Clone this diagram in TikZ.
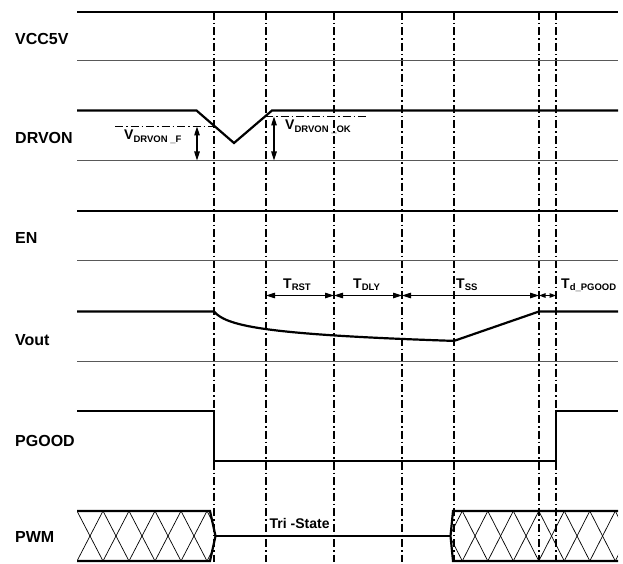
\documentclass[tikz,border=0pt]{standalone}
\usepackage{fontspec}
\setmainfont{Liberation Sans}
\usetikzlibrary{arrows.meta, positioning}
\tikzstyle{sig} = [line width=2.2pt, line join=miter]
\tikzstyle{base} = [line width=0.9pt, black!65]
\tikzstyle{timeline} = [line width=1.2pt, 
dash pattern=on 8pt off 3pt on 1.5pt off 3pt]
\tikzstyle{refline} = [line width=1.1pt, 
dash pattern=on 8pt off 3pt on 1.5pt off 3pt]
\tikzstyle{hatch} = [line width=0.7pt]
\tikzstyle{dim} = [line width=1.1pt, 
{Triangle[length=9pt,width=5.5pt]}-{Triangle[length=9pt,width=5.5pt]}]
\tikzstyle{shortdim} = [line width=1.1pt, 
{Triangle[length=6.5pt,width=4.5pt]}-{Triangle[length=6.5pt,width=4.5pt]}]
\tikzstyle{signame} = [font=\fontsize{16}{18}\selectfont\bfseries, 
anchor=base west, inner sep=0pt]
\tikzstyle{tlabel} = [font=\fontsize{14}{16}\selectfont\bfseries, 
anchor=base west, inner sep=0pt]
\newcommand{\lowidx}[1]{\raisebox{-2.5pt}{\fontsize{9.5}{10}\selectfont #1}}

\begin{document}
\begin{tikzpicture}[x=1pt, y=-1pt]
        \useasboundingbox (0,0) rectangle (623,564);

        % --- Nombres de las señales ---
        \node (n_vcc) [signame] at (15,45) {VCC5V};
        \node (n_drvon) [signame] at (15,144) {DRVON};
        \node (n_en) [signame] at (15,243) {EN};
        \node (n_vout) [signame] at (15,345) {Vout};
        \node (n_pgood) [signame] at (15,446) {PGOOD};
        \node (n_pwm) [signame] at (15,542) {PWM};

        % --- Líneas de tiempo (verticales) ---
        \foreach \t [count=\i] in {214,266,334,402,454,539,556} {
            \coordinate (t\i) at (\t,0);
            \draw [timeline] (\t,12) -- (\t,562);
        }

        % --- VCC5V ---
        \draw [sig] (77,12) -- (618,12);
        \draw [base] (77,60) -- (618,60);

        % --- DRVON ---
        \draw [sig] (77,110.5) -- (196.5,110.5) -- (234,143) -- (272,110.5) -- (618,110.5);
        \draw [base] (77,160.5) -- (618,160.5);
        \coordinate (f_top) at (197,126.5);
        \coordinate (f_bot) at (197,160.5);
        \coordinate (ok_top) at (274,116.5);
        \coordinate (ok_bot) at (274,160.5);
        \draw [refline] (115,126.5) -- (t1 |- f_top);
        \draw [refline] (265,116.5) -- (367,116.5);
        \draw [dim] (f_top) -- (f_bot);
        \draw [dim] (ok_top) -- (ok_bot);
        \node (v_f) [tlabel] at (124,140) {V\lowidx{DRVON \_F}};
        \node (v_ok) [tlabel] at (285,130) {V\lowidx{DRVON \_OK}};

        % --- EN ---
        \draw [sig] (77,211) -- (618,211);
        \draw [base] (77,260.5) -- (618,260.5);

        % --- Vout ---
        \draw [sig] (77,311.5) -- (214,311.5)
            -- plot[domain=214:454, samples=80] (\x,{311.5+8.25*ln(1+(\x-214)/7)})
            -- (539,311.5) -- (618,311.5);
        \draw [base] (77,361) -- (618,361);

        % Tiempos entre eventos
        \coordinate (trow) at (0,295.5);
        \draw [dim] (t2 |- trow) -- (t3 |- trow);
        \draw [dim] (t3 |- trow) -- (t4 |- trow);
        \draw [dim] (t4 |- trow) -- (t6 |- trow);
        \draw [shortdim] (t6 |- trow) -- (t7 |- trow);
        \node (l_rst) [tlabel] at (283,288) {T\lowidx{RST}};
        \node (l_dly) [tlabel] at (353,288) {T\lowidx{DLY}};
        \node (l_ss) [tlabel] at (456,288) {T\lowidx{SS}};
        \node (l_pg) [tlabel] at (561,288) {T\lowidx{d\_PGOOD}};

        % --- PGOOD ---
        \draw [sig] (77,411) -- (214,411) -- (214,461) -- (556,461) -- (556,411) -- (618,411);

        % --- PWM ---
        \begin{scope}
            \clip (77,511) -- (210,511) -- (215.5,536) -- (210,561) -- (77,561) -- cycle;
            \foreach \k in {0,...,5} {
                \draw [hatch] (77+26*\k,511) -- (103+26*\k,561);
                \draw [hatch] (77+26*\k,561) -- (103+26*\k,511);
            }
        \end{scope}
        \begin{scope}
            \clip (618,511) -- (453,511) -- (450.5,536) -- (453,561) -- (618,561) -- cycle;
            \foreach \k in {-1,...,6} {
                \draw [hatch] (462.3+25.5*\k,511) -- (487.8+25.5*\k,561);
                \draw [hatch] (462.3+25.5*\k,561) -- (487.8+25.5*\k,511);
            }
        \end{scope}
        \draw [sig] (77,511) -- (210,511) -- (215.5,536) -- (210,561) -- (77,561);
        \draw [sig] (618,511) -- (453,511) -- (450.5,536) -- (453,561) -- (618,561);
        \draw [sig] (215.5,536) -- (450.5,536);
        \node (l_tri) [tlabel] at (269.5,528.5) {Tri -State};

    \end{tikzpicture}
\end{document}
